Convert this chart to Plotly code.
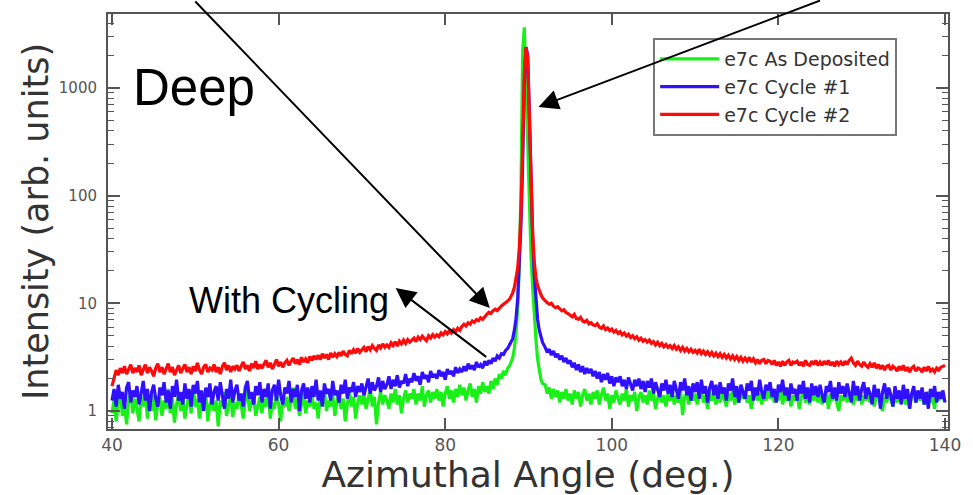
import numpy as np
import plotly.graph_objects as go

# Angle grid: 0.25 deg on the wings, 0.2 deg across the specular peak
ANGLE = np.concatenate([
    np.arange(40.0, 87.8, 0.25),    # 40.00 ... 87.75
    np.arange(87.9, 91.8, 0.2),     # 87.9 ... 91.7
    np.arange(92.0, 140.1, 0.25),   # 92.00 ... 140.00
]).round(2)

AS_DEPOSITED = [
    # 40 - 87.75
    0.95, 1.3, 0.8, 1.2, 1.45, 0.9, 1.15, 0.75, 1.25, 1.5, 0.95, 1.3,
    1.05, 0.8, 1.35, 1.1, 1.55, 0.85, 1.2, 1.0, 1.4, 0.82, 1.15, 1.35,
    0.9, 1.25, 1.05, 1.6, 0.95, 1.3, 0.78, 1.15, 1.45, 1.0, 1.3, 0.85,
    1.15, 1.4, 0.95, 1.7, 1.1, 1.3, 0.85, 1.2, 1.05, 1.5, 0.8, 1.15,
    1.3, 1.0, 1.25, 0.72, 1.25, 1.1, 1.5, 0.9, 1.15, 1.35, 0.88, 1.2,
    1.05, 1.45, 1.15, 0.85, 1.25, 1.6, 1.0, 1.2, 1.4, 0.9, 1.15, 1.35,
    0.95, 1.3, 1.1, 1.5, 0.85, 1.2, 1.05, 1.45, 1.15, 0.8, 1.3, 1.1,
    1.35, 1.0, 1.2, 1.65, 1.05, 1.3, 0.9, 1.15, 1.45, 0.95, 1.25, 1.1,
    1.4, 1.05, 1.2, 0.85, 1.35, 1.15, 1.55, 1.0, 1.25, 1.1, 1.45, 0.9,
    1.2, 1.4, 1.05, 1.3, 0.8, 1.15, 1.5, 1.1, 1.35, 0.85, 1.2, 1.4,
    1.15, 1.45, 1.05, 1.3, 1.6, 1.1, 1.35, 0.75, 1.2, 1.5, 1.15, 1.4,
    1.25, 1.05, 1.45, 1.2, 1.6, 1.15, 1.4, 0.95, 1.3, 1.55, 1.2, 1.45,
    1.3, 1.6, 1.15, 1.45, 1.25, 1.7, 1.1, 1.4, 1.55, 1.2, 1.5, 1.3,
    1.6, 1.25, 1.5, 1.1, 1.45, 1.7, 1.3, 1.55, 1.2, 1.6, 1.35, 1.75,
    1.4, 1.65, 1.25, 1.55, 1.8, 1.35, 1.6, 1.2, 1.7, 1.45, 1.85, 1.5,
    1.7, 1.45, 1.9, 1.6, 2.0, 1.75, 2.2, 2.0, 2.35, 2.15, 2.5, 2.65,
    # 87.9 - 91.7
    2.8, 3.1, 3.8, 5.3, 9, 22, 120, 2200, 3650, 1100,
    200, 60, 28, 14, 7.5, 4.5, 3.0, 2.3, 1.95, 1.8,
    # 92 - 140
    1.75, 1.45, 1.65, 1.3, 1.6, 1.35, 1.55, 1.2, 1.5, 1.3, 1.6, 1.25,
    1.45, 1.15, 1.55, 1.3, 1.5, 1.1, 1.4, 1.6, 1.25, 1.45, 1.15, 1.5,
    1.3, 1.55, 1.15, 1.4, 1.65, 1.25, 1.45, 1.05, 1.4, 1.2, 1.55, 1.3,
    1.15, 1.45, 1.25, 1.6, 1.1, 1.4, 1.25, 1.5, 1.0, 1.35, 1.5, 1.2,
    1.4, 1.15, 1.55, 1.25, 1.45, 1.05, 1.35, 1.6, 1.2, 1.4, 1.1, 1.45,
    1.25, 1.5, 1.15, 1.4, 1.2, 1.55, 0.92, 1.35, 1.45, 1.15, 1.5, 1.25,
    1.45, 1.15, 1.35, 1.55, 1.2, 1.4, 1.05, 1.5, 1.25, 1.45, 1.15, 1.35,
    1.2, 1.5, 1.3, 1.1, 1.45, 1.25, 1.6, 1.15, 1.4, 1.2, 1.5, 1.3,
    1.5, 1.2, 1.4, 1.05, 1.35, 1.55, 1.25, 1.45, 1.15, 1.4, 1.25, 1.55,
    1.3, 1.6, 1.2, 1.45, 1.25, 1.7, 1.15, 1.4, 1.25, 1.5, 1.1, 1.4,
    1.25, 1.45, 1.05, 1.35, 1.5, 1.2, 1.4, 1.15, 1.45, 1.25, 1.55, 1.2,
    1.4, 1.15, 1.35, 1.5, 1.05, 1.45, 1.25, 1.6, 1.2, 1.0, 1.4, 1.25,
    1.45, 1.2, 1.5, 1.3, 1.15, 1.45, 1.25, 1.55, 1.15, 1.4, 1.25, 1.45,
    1.2, 1.4, 1.1, 1.35, 1.5, 1.15, 1.0, 1.35, 1.2, 1.45, 1.25, 1.1,
    1.4, 1.2, 1.5, 1.25, 1.45, 1.15, 1.35, 1.05, 1.4, 1.55, 1.2, 1.4,
    1.25, 1.45, 1.15, 1.4, 1.5, 1.2, 1.35, 1.05, 1.45, 1.25, 1.5, 1.3,
    1.25,
]

CYCLE_1 = [
    # 40 - 87.75
    1.25, 1.6, 1.1, 1.75, 1.3, 1.5, 1.05, 1.65, 1.85, 1.2, 1.55, 1.35,
    1.7, 1.15, 1.45, 1.9, 1.25, 1.6, 1.0, 1.5, 1.75, 1.3, 1.1, 1.65,
    1.4, 1.85, 1.2, 1.55, 1.05, 1.7, 1.35, 1.95, 1.25, 1.5, 1.15, 1.8,
    1.3, 1.6, 1.1, 1.75, 1.45, 1.9, 1.2, 1.55, 1.0, 1.65, 1.35, 1.8,
    1.15, 1.5, 1.7, 1.25, 1.85, 1.4, 1.05, 1.6, 1.3, 1.95, 1.2, 1.55,
    1.75, 1.25, 1.45, 1.1, 1.65, 1.9, 1.3, 1.5, 1.15, 1.7, 1.4, 1.85,
    1.2, 1.6, 1.35, 1.8, 1.05, 1.55, 1.75, 1.25, 1.95, 1.4, 1.15, 1.65,
    1.45, 1.9, 1.2, 1.6, 1.35, 1.75, 1.0, 1.55, 1.8, 1.3, 1.65, 1.2,
    1.7, 1.35, 1.95, 1.25, 1.55, 1.1, 1.8, 1.45, 1.6, 1.25, 1.9, 1.4,
    1.55, 1.2, 1.75, 1.45, 1.95, 1.3, 1.65, 1.5, 1.85, 1.35, 1.7, 1.5,
    1.8, 1.4, 1.65, 2.0, 1.45, 1.85, 1.55, 1.7, 2.05, 1.5, 1.9, 1.6,
    1.75, 2.1, 1.6, 1.95, 1.7, 2.15, 1.65, 1.9, 1.8, 2.2, 1.7, 2.0,
    1.85, 2.25, 1.9, 2.1, 1.75, 2.3, 2.0, 2.15, 1.85, 2.35, 2.05, 2.2,
    2.0, 2.4, 2.1, 2.3, 1.95, 2.45, 2.2, 2.35, 2.1, 2.55, 2.25, 2.45,
    2.3, 2.6, 2.35, 2.75, 2.45, 2.65, 2.4, 2.85, 2.55, 2.7, 2.5, 2.9,
    2.65, 2.95, 2.75, 3.1, 2.9, 3.25, 3.1, 3.4, 3.35, 3.65, 3.8, 4.1,
    # 87.9 - 91.7
    4.3, 4.7, 5.6, 7.2, 11, 22, 55, 200, 1100, 2400,
    2000, 600, 130, 40, 18, 10.5, 7.0, 5.6, 4.8, 4.3,
    # 92 - 140
    3.9, 3.5, 3.75, 3.3, 3.6, 3.15, 3.4, 3.0, 3.25, 2.85, 3.1, 2.75,
    2.95, 2.55, 2.8, 2.4, 2.7, 2.3, 2.6, 2.2, 2.5, 2.25, 2.45, 2.1,
    2.35, 2.0, 2.3, 1.85, 2.2, 1.95, 2.25, 1.8, 2.1, 1.7, 2.05, 1.85,
    2.1, 1.7, 1.95, 1.6, 2.05, 1.75, 1.55, 1.95, 1.7, 2.0, 1.6, 1.9,
    1.5, 1.9, 1.65, 2.0, 1.45, 1.85, 1.6, 1.35, 1.8, 1.55, 1.95, 1.45,
    1.75, 1.35, 1.9, 1.6, 1.3, 1.85, 1.55, 2.0, 1.4, 1.7, 1.25, 1.8,
    1.5, 1.85, 1.3, 1.95, 1.45, 1.7, 1.2, 1.65, 1.9, 1.4, 1.75, 1.3,
    1.85, 1.45, 1.65, 1.25, 1.8, 1.55, 2.0, 1.35, 1.7, 1.2, 1.75, 1.5,
    1.3, 1.8, 1.55, 1.9, 1.25, 1.65, 1.4, 1.95, 1.5, 1.3, 1.75, 1.55,
    1.85, 1.35, 1.6, 1.2, 1.75, 1.5, 1.95, 1.4, 1.65, 1.25, 1.8, 1.45,
    1.6, 1.25, 1.75, 1.45, 1.9, 1.3, 1.65, 1.2, 1.8, 1.4, 1.7, 1.35,
    1.75, 1.4, 1.2, 1.7, 1.5, 1.9, 1.3, 1.65, 1.25, 1.85, 1.45, 1.7,
    1.35, 1.8, 1.5, 1.2, 1.9, 1.4, 1.7, 1.25, 1.6, 1.85, 1.3, 1.65,
    1.45, 1.15, 1.75, 1.35, 1.6, 1.05, 1.5, 1.8, 1.3, 1.65, 1.4, 1.1,
    1.7, 1.3, 1.55, 1.15, 1.75, 1.3, 1.6, 1.05, 1.45, 1.7, 1.2, 1.55,
    1.3, 1.65, 1.15, 1.5, 1.05, 1.6, 1.35, 1.7, 1.2, 1.5, 1.3, 1.55,
    1.2,
]

CYCLE_2 = [
    # 40 - 87.75
    1.7, 2.05, 2.4, 2.15, 2.5, 2.25, 2.6, 2.2, 2.45, 2.7, 2.25, 2.5,
    2.3, 2.65, 2.15, 2.45, 2.7, 2.25, 2.55, 2.35, 2.1, 2.5, 2.75, 2.3,
    2.55, 2.2, 2.45, 2.75, 2.3, 2.55, 2.15, 2.4, 2.65, 2.25, 2.5, 2.7,
    2.3, 2.55, 2.2, 2.6, 2.35, 2.8, 2.4, 2.2, 2.55, 2.7, 2.3, 2.5,
    2.4, 2.7, 2.3, 2.55, 2.2, 2.6, 2.8, 2.4, 2.65, 2.3, 2.6, 2.45,
    2.65, 2.35, 2.6, 2.85, 2.45, 2.65, 2.35, 2.75, 2.5, 2.9, 2.45, 2.7,
    2.5, 2.75, 2.95, 2.55, 2.8, 2.45, 2.75, 3.0, 2.6, 2.85, 2.55, 2.8,
    2.95, 2.65, 2.9, 3.1, 2.75, 3.0, 2.7, 3.15, 2.85, 3.05, 2.8, 3.2,
    2.95, 3.25, 3.0, 3.3, 3.0, 3.4, 3.1, 3.35, 3.0, 3.45, 3.15, 3.4,
    3.2, 3.5, 3.25, 3.6, 3.35, 3.25, 3.65, 3.4, 3.7, 3.45, 3.8, 3.5,
    3.7, 3.9, 3.55, 3.95, 3.7, 4.05, 3.8, 3.65, 4.1, 3.85, 4.2, 3.9,
    4.1, 3.9, 4.3, 4.05, 4.4, 4.0, 4.45, 4.2, 4.55, 4.25, 4.6, 4.35,
    4.55, 4.75, 4.4, 4.85, 4.6, 4.95, 4.7, 4.5, 5.0, 4.75, 5.1, 4.85,
    5.1, 4.9, 5.3, 5.1, 5.45, 5.2, 5.6, 5.3, 5.7, 5.45, 5.85, 5.6,
    6.1, 6.4, 6.15, 6.6, 6.4, 6.85, 6.65, 7.05, 6.9, 7.35, 7.1, 7.55,
    7.9, 8.25, 8.05, 8.55, 8.8, 8.55, 9.1, 9.45, 9.8, 10.1, 10.5, 11.0,
    # 87.9 - 91.7
    11.5, 12.5, 14, 16.5, 21, 33, 70, 300, 1400, 2400,
    1900, 550, 130, 45, 24, 17, 14.5, 13, 12, 11.2,
    # 92 - 140
    10.5, 10.1, 9.8, 10.0, 9.4, 9.1, 9.3, 8.8, 8.5, 8.7, 8.2, 8.0,
    7.8, 7.5, 7.9, 7.2, 7.1, 7.4, 6.85, 6.7, 6.95, 6.45, 6.6, 6.3,
    6.2, 6.45, 6.0, 5.85, 6.15, 5.7, 5.9, 5.55, 5.75, 5.4, 5.6, 5.25,
    5.45, 5.1, 5.3, 4.95, 5.15, 4.8, 5.0, 4.7, 4.9, 4.55, 4.75, 4.45,
    4.6, 4.35, 4.55, 4.25, 4.4, 4.1, 4.35, 4.05, 4.25, 3.95, 4.15, 3.9,
    4.05, 3.8, 4.05, 3.75, 3.95, 3.65, 3.9, 3.6, 3.8, 3.55, 3.75, 3.5,
    3.65, 3.45, 3.75, 3.4, 3.6, 3.35, 3.55, 3.3, 3.5, 3.25, 3.45, 3.2,
    3.4, 3.15, 3.35, 3.1, 3.3, 3.05, 3.25, 3.0, 3.2, 2.95, 3.15, 2.9,
    3.1, 2.9, 3.15, 2.85, 3.05, 2.8, 3.0, 2.75, 2.95, 3.0, 2.75, 2.95,
    2.9, 2.7, 2.95, 2.65, 2.85, 2.6, 2.9, 2.65, 2.85, 2.95, 2.65, 2.85,
    2.8, 2.9, 2.65, 2.85, 2.6, 2.95, 2.7, 2.65, 2.9, 2.7, 2.95, 2.65,
    2.85, 2.65, 2.9, 2.7, 2.95, 2.65, 2.85, 2.6, 2.9, 2.7, 2.85, 2.65,
    2.9, 2.7, 2.95, 3.1, 2.8, 2.65, 2.9, 2.7, 2.6, 2.85, 2.65, 2.55,
    2.75, 2.55, 2.8, 2.5, 2.7, 2.45, 2.65, 2.4, 2.6, 2.65, 2.4, 2.6,
    2.5, 2.35, 2.6, 2.4, 2.65, 2.35, 2.55, 2.3, 2.5, 2.6, 2.35, 2.5,
    2.45, 2.3, 2.55, 2.35, 2.6, 2.35, 2.45, 2.3, 2.5, 2.4, 2.55, 2.6,
    2.65,
]

SERIES = [
    ("e7c As Deposited", AS_DEPOSITED, "#18f018"),
    ("e7c Cycle #1", CYCLE_1, "#3010ff"),
    ("e7c Cycle #2", CYCLE_2, "#ff0a0a"),
]

X_TICKS = [40, 60, 80, 100, 120, 140]
Y_TICKS = [1, 10, 100, 1000]

for _, values, _ in SERIES:
    assert len(values) == len(ANGLE), (len(values), len(ANGLE))

fig = go.Figure()
for name, values, color in SERIES:
    fig.add_trace(go.Scatter(
        x=ANGLE, y=values, name=name, mode="lines",
        line=dict(color=color, width=3.2),
    ))

AXIS_COLOR = "#555555"
TICK_FONT = "DejaVu Sans, Verdana, sans-serif"

fig.update_xaxes(
    range=[39.52, 140.36],
    tickvals=X_TICKS, ticktext=[str(v) for v in X_TICKS],
    ticks="inside", ticklen=11, tickwidth=1.5, tickcolor=AXIS_COLOR,
    showline=True, linecolor=AXIS_COLOR, linewidth=2, mirror="ticks",
    showgrid=False, zeroline=False,
    tickfont=dict(family=TICK_FONT, size=17, color="#555555"),
    title=dict(text="Azimuthal Angle (deg.)", standoff=0,
               font=dict(family=TICK_FONT, size=36, color="#333333")),
)
fig.update_yaxes(
    type="log", range=[np.log10(0.68), np.log10(4860)],
    tickvals=Y_TICKS, ticktext=[str(v) for v in Y_TICKS],
    ticks="inside", ticklen=12, tickwidth=1.5, tickcolor=AXIS_COLOR,
    ticklabelstandoff=6,
    minor=dict(ticks="inside", ticklen=6, tickwidth=1.2, tickcolor=AXIS_COLOR,
               dtick="D1", showgrid=False),
    showline=True, linecolor=AXIS_COLOR, linewidth=2, mirror="ticks",
    showgrid=False, zeroline=False,
    tickfont=dict(family=TICK_FONT, size=15, color="#555555"),
    title=dict(text="Intensity (arb. units)", standoff=0,
               font=dict(family=TICK_FONT, size=35, color="#333333")),
)

ARROW = dict(showarrow=True, arrowhead=2, arrowsize=2, arrowwidth=2,
             arrowcolor="black", axref="pixel", ayref="pixel", text="")

fig.update_layout(
    width=973, height=495,
    margin=dict(l=108, r=18, t=14, b=66),
    paper_bgcolor="white", plot_bgcolor="white",
    showlegend=True,
    legend=dict(
        x=0.649, y=0.942, xanchor="left", yanchor="top",
        bgcolor="white", bordercolor="#777777", borderwidth=2,
        font=dict(family=TICK_FONT, size=19, color="#333333"),
        itemwidth=59, tracegroupgap=0,
    ),
    annotations=[
        dict(x=49.8, y=3.0, xref="x", yref="y", text="Deep", showarrow=False,
             font=dict(family="Liberation Sans, Arial, sans-serif", size=51, color="black")),
        dict(x=61.2, y=1.03, xref="x", yref="y", text="With Cycling", showarrow=False,
             font=dict(family="Liberation Sans, Arial, sans-serif", size=36, color="black")),
        dict(ARROW, x=85.36, y=0.956, xref="x", yref="y", ax=-296, ay=-314),
        dict(ARROW, x=74.05, y=1.142, xref="x", yref="y", ax=92, ay=70),
        dict(ARROW, x=91.2, y=2.823, xref="x", yref="y", ax=283, ay=-112),
    ],
)

fig.write_html("out.html")
